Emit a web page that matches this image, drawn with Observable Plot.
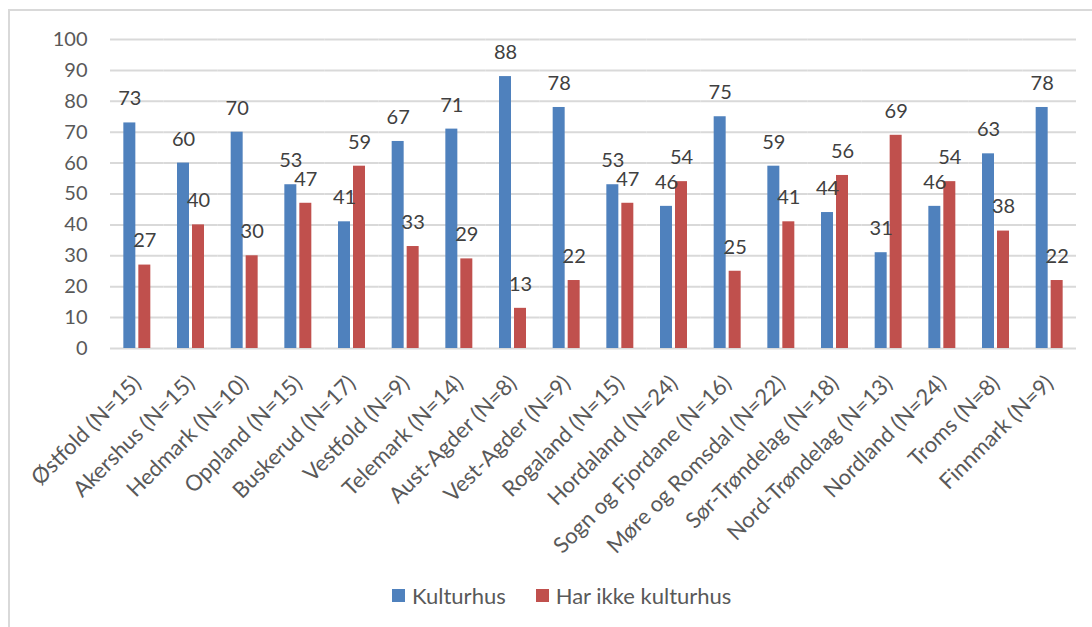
<!DOCTYPE html>
<html><head><meta charset="utf-8">
<script src="https://cdn.jsdelivr.net/npm/d3@7"></script>
<script src="https://cdn.jsdelivr.net/npm/@observablehq/plot@0.6"></script>
<style>
body{margin:0;background:#fff;font-family:Lato,"Liberation Sans",sans-serif;width:1092px;height:627px;overflow:hidden;position:relative;}
#frame{position:absolute;left:8px;top:9px;width:1100px;height:700px;border:2px solid #d9d9d9;box-sizing:border-box;}
#chart{position:absolute;left:0;top:0;}
#legend{position:absolute;left:392px;top:582px;display:flex;align-items:center;font-size:22px;color:#595959;}
.sw{display:inline-block;width:13px;height:13px;margin-right:7px;}
.item{display:flex;align-items:center;margin-right:30px;}
</style></head>
<body>
<div id="frame"></div>
<div id="chart"></div>
<div id="legend"></div>
<script>
const regions = ["Østfold (N=15)","Akershus (N=15)","Hedmark (N=10)","Oppland (N=15)","Buskerud (N=17)","Vestfold (N=9)","Telemark (N=14)","Aust-Agder (N=8)","Vest-Agder (N=9)","Rogaland (N=15)","Hordaland (N=24)","Sogn og Fjordane (N=16)","Møre og Romsdal (N=22)","Sør-Trøndelag (N=18)","Nord-Trøndelag (N=13)","Nordland (N=24)","Troms (N=8)","Finnmark (N=9)"];
const kulturhus = [73,60,70,53,41,67,71,88,78,53,46,75,59,44,31,46,63,78];
const harIkkeKulturhus = [27,40,30,47,59,33,29,13,22,47,54,25,41,56,69,54,38,22];
const series = ["Kulturhus","Har ikke kulturhus"];
const colors = ["#4F81BD","#C0504D"];
const yTicks = [0,10,20,30,40,50,60,70,80,90,100];

const data = regions.flatMap((r,i)=>[
  {region:r, serie:series[0], value:kulturhus[i]},
  {region:r, serie:series[1], value:harIkkeKulturhus[i]}
]);

const chart = Plot.plot({
  width:1092, height:560,
  marginLeft:110, marginRight:16, marginTop:39, marginBottom:212,
  style:{fontFamily:'Lato,"Liberation Sans",sans-serif', fontSize:"20px", color:"#595959", background:"transparent", overflow:"visible"},
  fx:{domain:regions, padding:0, round:false, label:null},
  x:{domain:series, paddingInner:0.2, paddingOuter:0.89, round:false, axis:null},
  y:{domain:[0,100], ticks:yTicks, label:null, tickSize:0, tickPadding:23},
  color:{domain:series, range:colors},
  marks:[
    Plot.gridY(yTicks,{stroke:"#d9d9d9", strokeOpacity:1, strokeWidth:2}),
    Plot.barY(data,{fx:"region", x:"serie", y:"value", fill:"serie"}),
    Plot.text(data,{fx:"region", x:"serie", y:"value", text:"value", dy:-24, fill:"#404040", fontSize:20}),
    Plot.axisFx({anchor:"bottom", tickRotate:-45, tickSize:0, tickPadding:31, fontSize:22, label:null})
  ]
});
document.getElementById("chart").append(chart);

const lg = document.getElementById("legend");
series.forEach((s,i)=>{
  const it = document.createElement("div"); it.className="item";
  const sw = document.createElement("span"); sw.className="sw"; sw.style.background=colors[i];
  it.append(sw, document.createTextNode(s));
  lg.append(it);
});
</script>
</body></html>
